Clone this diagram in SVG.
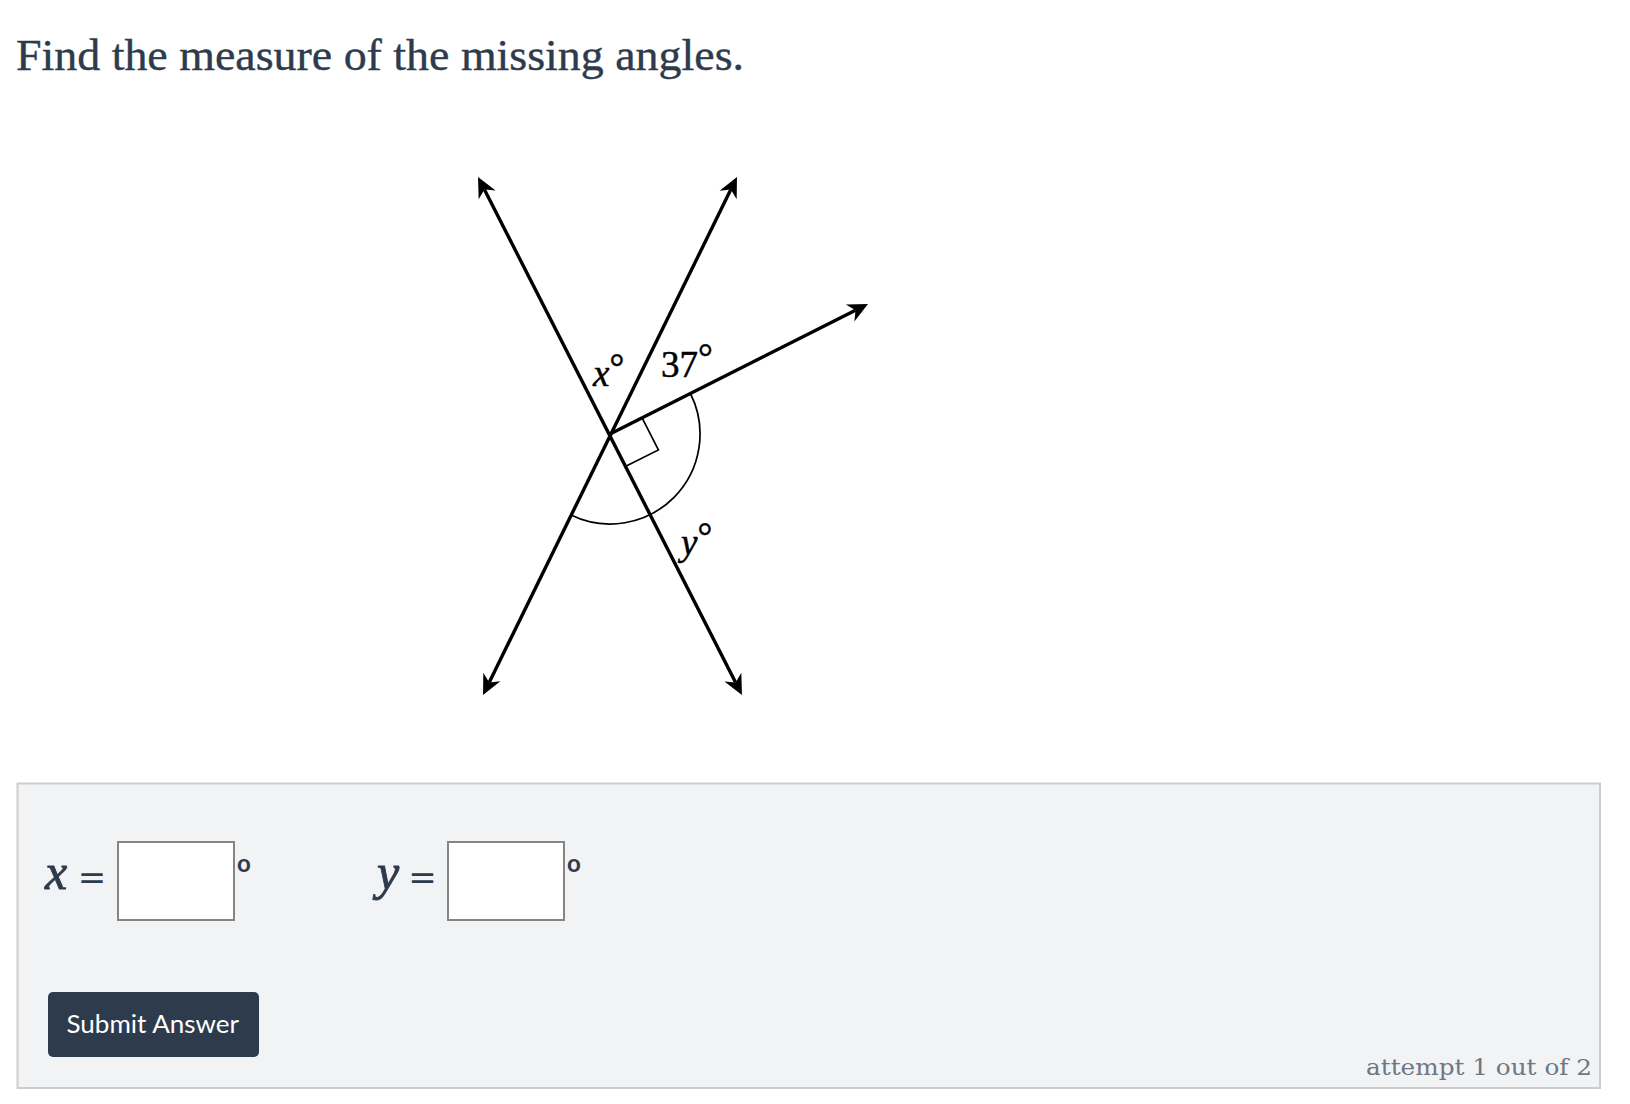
<svg xmlns="http://www.w3.org/2000/svg" width="1630" height="1104" viewBox="0 0 1630 1104">
<style>
.title{font-family:"Liberation Serif",serif;font-size:45px;fill:#2d3b4d;stroke:#2d3b4d;stroke-width:0.4}
.lab{font-family:"Liberation Serif",serif;font-size:37px;fill:#000;stroke:#000;stroke-width:0.5}
.it{font-style:italic}
.ray{stroke:#000;stroke-width:3.4;fill:none;stroke-linecap:butt}
.thin{stroke:#000;stroke-width:1.7;fill:none}
.var{font-family:"Liberation Serif",serif;font-style:italic;font-size:50px;fill:#2d3b4d;stroke:#2d3b4d;stroke-width:0.9}
.eq{font-family:"DejaVu Sans",sans-serif;font-size:34px;fill:#2d3b4d}
.deg{font-family:"Lato","Open Sans",sans-serif;font-size:24px;font-weight:bold;fill:#2d3b4d}
.box{fill:#fff;stroke:#858585;stroke-width:2}
.btn{font-family:"Lato",sans-serif;font-size:25px;fill:#fff}
.att{font-family:"DejaVu Serif",serif;font-size:22px;fill:#6f7681}
</style>
<defs>
<marker id="ah" viewBox="-8 -10 24 20" markerWidth="24" markerHeight="20" refX="0" refY="0" orient="auto-start-reverse" markerUnits="userSpaceOnUse">
<path d="M-6,-9.5 L14,0 L-6,9.5 L0,0 Z" fill="#000"/>
</marker>
</defs>
<rect width="1630" height="1104" fill="#fff"/>
<text id="title" class="title" x="16" y="70" textLength="728" lengthAdjust="spacingAndGlyphs">Find the measure of the missing angles.</text>

<g id="connectors">
<line id="line1" class="ray" x1="484.4" y1="189.5" x2="735.6" y2="682.5" marker-start="url(#ah)" marker-end="url(#ah)"/>
<line id="line2" class="ray" x1="730.8" y1="189.6" x2="489.2" y2="682.4" marker-start="url(#ah)" marker-end="url(#ah)"/>
<line id="ray3" class="ray" x1="610" y1="434" x2="855.5" y2="310.3" marker-end="url(#ah)"/>
</g>
<g id="marks">
<path class="thin" d="M642.1,417.8 L658.4,449.9 L626.3,466.1"/>
<path class="thin" d="M690.4,393.5 A90,90 0 0 1 570.4,514.8"/>
</g>
<g id="labels">
<text class="lab" x="593" y="386"><tspan class="it">x</tspan><tspan dy="-6">°</tspan></text>
<text class="lab" x="661" y="377">37<tspan dy="-7">°</tspan></text>
<text class="lab" x="681" y="555"><tspan class="it">y</tspan><tspan dy="-6">°</tspan></text>
</g>

<g id="panel">
<rect x="17.5" y="783.5" width="1582.5" height="304.5" fill="#f2f3f5" stroke="#cdcdcd" stroke-width="2"/>
</g>
<g id="answer-x">
<text class="var" x="45" y="889">x</text>
<text class="eq" x="92" y="889" text-anchor="middle">=</text>
<rect class="box" x="118" y="842" width="116" height="78"/>
<text class="deg" x="237" y="872">o</text>
</g>
<g id="answer-y">
<text class="var" x="377" y="889">y</text>
<text class="eq" x="422.5" y="889" text-anchor="middle">=</text>
<rect class="box" x="448" y="842" width="116" height="78"/>
<text class="deg" x="567" y="872">o</text>
</g>
<g id="submit">
<rect x="48" y="992" width="211" height="65" rx="5" fill="#2d3b4d"/>
<text class="btn" x="66.5" y="1033" textLength="172.6" lengthAdjust="spacingAndGlyphs">Submit Answer</text>
</g>
<text id="attempt" class="att" x="1592" y="1075" text-anchor="end" textLength="226" lengthAdjust="spacingAndGlyphs">attempt 1 out of 2</text>
</svg>
